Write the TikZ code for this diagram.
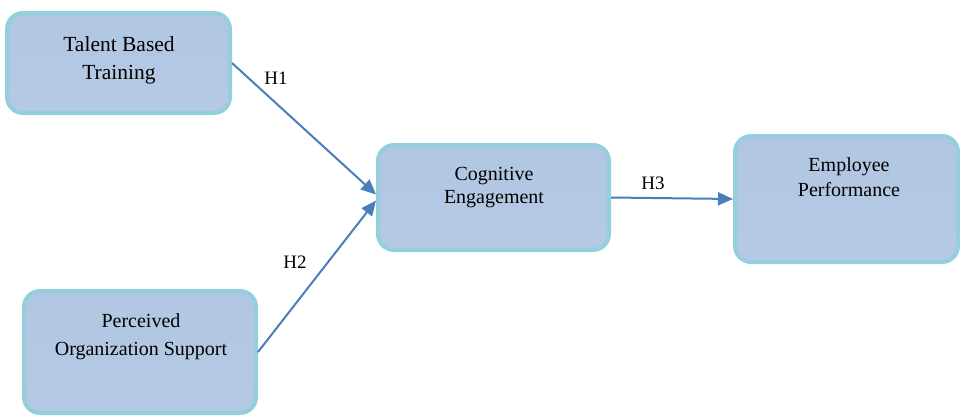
\documentclass[tikz,border=0pt]{standalone}
\usepackage{fontspec}
\setmainfont{Liberation Serif}
\newfontfamily\timesfont{Liberation Serif}
\usetikzlibrary{arrows.meta}
\definecolor{boxfill}{HTML}{B1C6E2}
\definecolor{boxtop}{HTML}{E4ECF6}
\definecolor{boxborder}{HTML}{93CFDD}
\definecolor{arrowcol}{HTML}{4A7EBB}
\pgfdeclareverticalshading{boxshade}{100bp}{color(0bp)=(boxfill); color(8bp)=(boxfill!92!white); color(75bp)=(boxfill); color(100bp)=(boxtop)}
\tikzset{
  box/.style={draw=boxborder, line width=4pt, rounded corners=16pt, shading=boxshade, inner sep=0pt},
  boxtext/.style={align=center, text=black, inner sep=0pt},
  hyp/.style={text=black, font=\timesfont\fontsize{19}{22}\selectfont, inner sep=0pt},
  conn/.style={draw=arrowcol, line width=2pt, -{Triangle[length=15pt,width=13pt]}}
}
\begin{document}
\begin{tikzpicture}[x=1pt,y=-1pt]
\useasboundingbox (0,0) rectangle (960,415);
\node[box, minimum width=223pt, minimum height=100pt] (b1) at (118.5,63) {};
\node[box, minimum width=232pt, minimum height=122pt] (b2) at (140,352) {};
\node[box, minimum width=231pt, minimum height=105pt] (b3) at (493.5,197.5) {};
\node[box, minimum width=223pt, minimum height=126pt] (b4) at (846.5,199) {};
\node[boxtext, font=\timesfont\fontsize{21.5}{28}\selectfont] (t1) at (119,60) {Talent Based\\Training};
\node[boxtext, font=\timesfont\fontsize{20}{28}\selectfont] (t2) at (141,337) {Perceived\\Organization Support};
\node[boxtext, font=\timesfont\fontsize{20}{23}\selectfont] (t3) at (494,188) {Cognitive\\Engagement};
\node[boxtext, font=\timesfont\fontsize{20}{25}\selectfont] (t4) at (849,177) {Employee\\Performance};
\draw[conn] (b1.east) -- ([yshift=3pt]b3.west);
\draw[conn] (b2.east) -- ([yshift=-3pt]b3.west);
\draw[conn] (b3.east) -- (b4.west);
\node[hyp] (h1) at (276,78) {H1};
\node[hyp] (h2) at (295,262) {H2};
\node[hyp] (h3) at (653,183) {H3};
\end{tikzpicture}
\end{document}
